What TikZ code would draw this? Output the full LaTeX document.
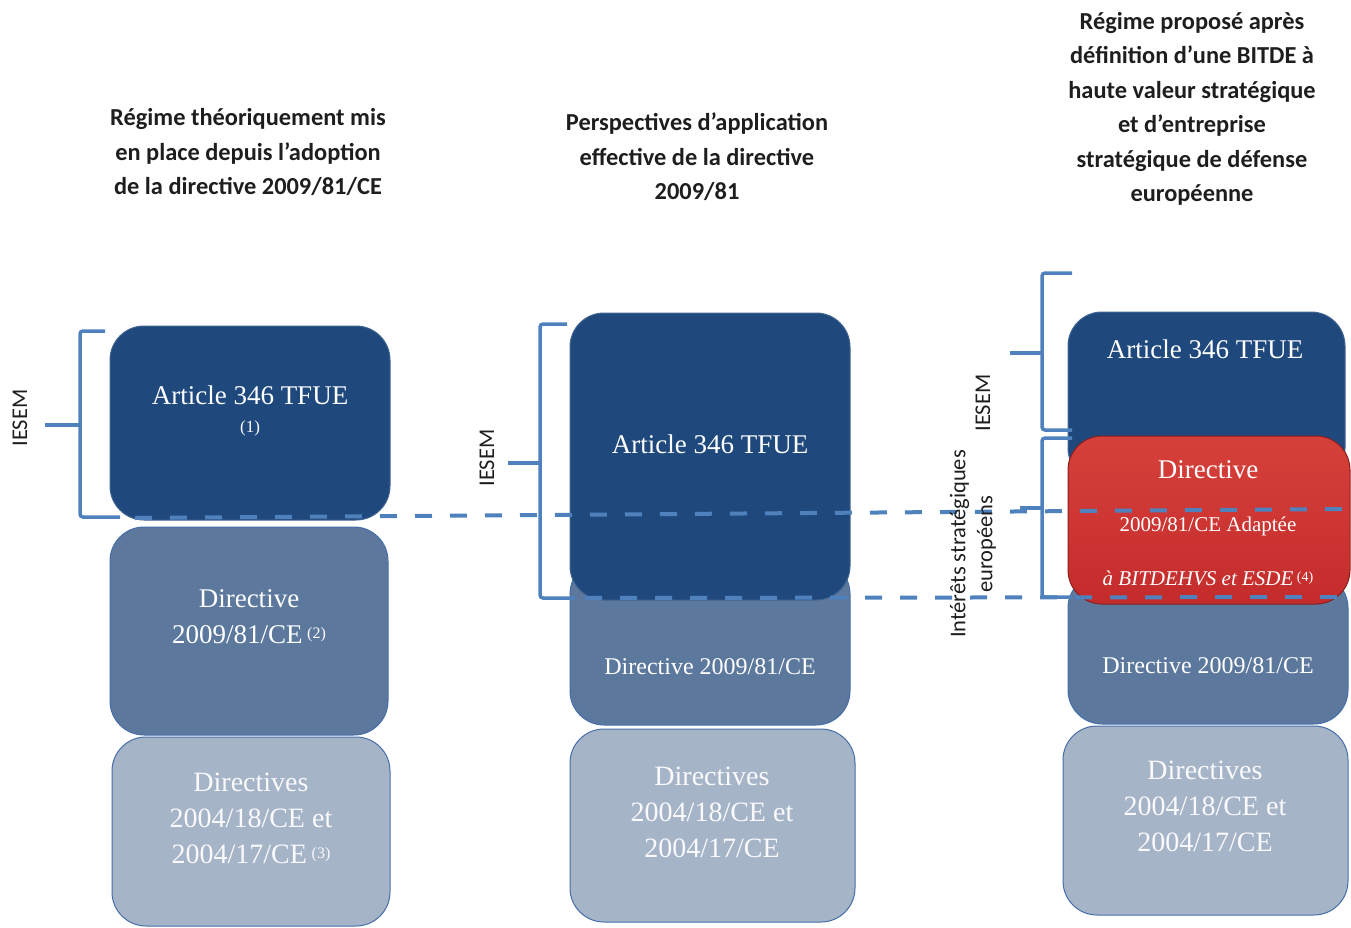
\documentclass[tikz,border=0pt]{standalone}
\usepackage{fontspec}
\setmainfont{Liberation Serif}
\newfontfamily\hd{Carlito}
\definecolor{dkblue}{RGB}{31,73,125}
\definecolor{mdblue}{RGB}{92,120,157}
\definecolor{ltblue}{RGB}{166,180,200}
\definecolor{lnblue}{RGB}{79,129,189}
\definecolor{edge}{RGB}{70,110,170}
\definecolor{redtop}{RGB}{214,64,58}
\definecolor{redbot}{RGB}{196,44,44}
\definecolor{hdcol}{RGB}{30,30,30}
\begin{document}
\begin{tikzpicture}[x=1pt,y=-1pt,
  box/.style={rounded corners=34pt, draw=edge, line width=1pt, inner sep=0pt},
  dkbox/.style={box, fill=dkblue, draw=dkblue!85!white},
  mdbox/.style={box, fill=mdblue},
  ltbox/.style={box, fill=ltblue},
  redbox/.style={box, draw=redbot!70!black, top color=redtop, bottom color=redbot},
  heading/.style={font=\hd\bfseries\fontsize{24.4}{34.5}\selectfont, text=hdcol, align=center},
  boxtext/.style={text=white, align=center, font=\fontsize{27}{36}\selectfont},
  lighttext/.style={text=white!94!ltblue, align=center, font=\fontsize{28}{36}\selectfont},
  sidelabel/.style={rotate=90, font=\hd\fontsize{22.5}{27}\selectfont, text=hdcol, align=center},
  bracket/.style={draw=lnblue, line width=3.5pt, rounded corners=3pt},
  dashline/.style={draw=lnblue, line width=4pt, dash pattern=on 17pt off 18pt},
  note/.style={font=\fontsize{17}{17}\selectfont}
]
\useasboundingbox (0,0) rectangle (1351,928);

% headings
\node[heading] (h1) at (248,152) {Régime théoriquement mis\\en place depuis l’adoption\\de la directive 2009/81/CE};
\node[heading] (h2) at (697,157) {Perspectives d’application\\effective de la directive\\2009/81};
\node[heading] (h3) at (1192,109) {Régime proposé après\\définition d’une BITDE à\\haute valeur stratégique\\et d’entreprise\\stratégique de défense\\européenne};

% column 1
\node[ltbox, minimum width=278pt, minimum height=189pt] (c1) at (251,831.5) {};
\node[mdbox, minimum width=278pt, minimum height=208pt] (b1) at (249,631) {};
\node[dkbox, minimum width=280pt, minimum height=194pt] (a1) at (250,423) {};
\node[boxtext] (ta1) at (250,395) {Article 346 TFUE};
\node[boxtext, note] (na1) at (250,428) {(1)};
\node[boxtext] (tb1) at (249,617) {Directive\\2009/81/CE\,\raisebox{5pt}{\fontsize{16}{16}\selectfont(2)}};
\node[lighttext] (tc1) at (251,818) {Directives\\2004/18/CE et\\2004/17/CE\,\raisebox{5pt}{\fontsize{16}{16}\selectfont(3)}};

% column 2
\node[ltbox, minimum width=285pt, minimum height=193pt] (c2) at (712.5,825.5) {};
\node[mdbox, minimum width=280pt, minimum height=165pt] (b2) at (710,642.5) {};
\node[dkbox, minimum width=280pt, minimum height=287pt] (a2) at (710,456.5) {};
\node[boxtext] (ta2) at (710,444) {Article 346 TFUE};
\node[boxtext, font=\fontsize{24}{30}\selectfont] (tb2) at (710,667) {Directive 2009/81/CE};
\node[lighttext] (tc2) at (712,812) {Directives\\2004/18/CE et\\2004/17/CE};

% column 3
\node[ltbox, minimum width=285pt, minimum height=189pt] (c3) at (1205.5,820.5) {};
\node[mdbox, minimum width=280pt, minimum height=150pt] (b3) at (1208,649) {};
\node[dkbox, minimum width=277pt, minimum height=170pt] (a3) at (1206.5,397) {};
\node[redbox, minimum width=282pt, minimum height=168pt] (r3) at (1209,520) {};
\node[boxtext] (ta3) at (1205,349) {Article 346 TFUE};
\node[boxtext] (tr1) at (1208,470) {Directive};
\node[boxtext, font=\fontsize{21}{24}\selectfont] (tr2) at (1208,526) {2009/81/CE Adaptée};
\node[boxtext, font=\itshape\fontsize{21}{24}\selectfont] (tr3) at (1208,578) {à BITDEHVS et ESDE\,\raisebox{4pt}{\upshape\fontsize{14}{14}\selectfont(4)}};
\node[boxtext, font=\fontsize{24}{30}\selectfont] (tb3) at (1208,666) {Directive 2009/81/CE};
\node[lighttext] (tc3) at (1205,806) {Directives\\2004/18/CE et\\2004/17/CE};

% dashed lines
\coordinate (d1s) at (135,518);
\coordinate (d1e) at (1351,509);
\coordinate (d2s) at (585,598);
\coordinate (d2e) at (1351,597);
\draw[dashline] (d1s) -- (d1e);
\draw[dashline] (d2s) -- (d2e);

% brackets
\draw[bracket] (105,331) -- (80,331) -- (80,517) -- (120,517);
\draw[bracket] (45,425) -- (80,425);
\draw[bracket] (567,324) -- (540,324) -- (540,598) -- (575,598);
\draw[bracket] (508,463) -- (540,463);
\draw[bracket] (1072,273) -- (1042,273) -- (1042,430) -- (1072,430);
\draw[bracket] (1010,353) -- (1042,353);
\draw[bracket] (1072,438) -- (1042,438) -- (1042,597) -- (1072,597);
\draw[bracket] (1020,508) -- (1042,508);

% side labels
\node[sidelabel] (s1) at (20,418) {IESEM};
\node[sidelabel] (s2) at (487,458) {IESEM};
\node[sidelabel] (s3) at (983,403) {IESEM};
\node[sidelabel] (s4) at (973,544) {Intérêts stratégiques\\européens};
\end{tikzpicture}
\end{document}
